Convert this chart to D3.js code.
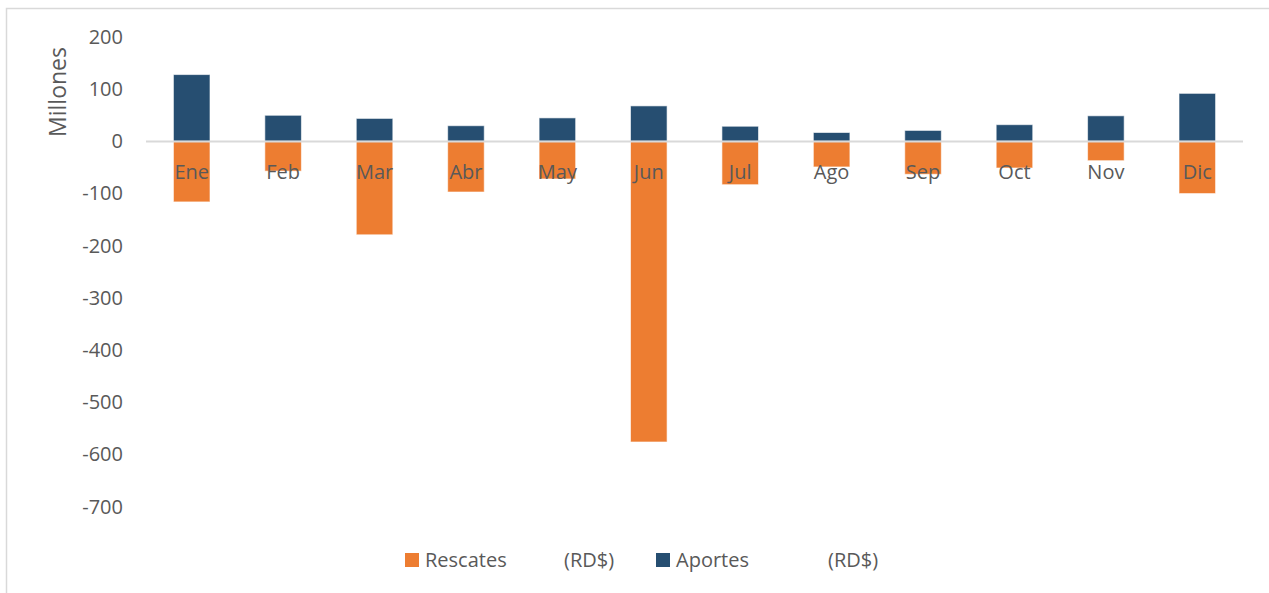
<!DOCTYPE html>
<html><head><meta charset="utf-8">
<script src="https://cdn.jsdelivr.net/npm/d3@7"></script>
<style>html,body{margin:0;padding:0;background:#fff;} svg{display:block;font-family:"Open Sans",sans-serif;}</style>
</head><body>
<script>
const categories = ["Ene","Feb","Mar","Abr","May","Jun","Jul","Ago","Sep","Oct","Nov","Dic"];
const aportes = [128, 50, 44, 30, 45, 68, 29, 17, 21, 32, 49, 92];
const rescates = [-116, -57, -179, -97, -72, -576, -83, -49, -63, -51, -37, -100];
const yTicks = [200, 100, 0, -100, -200, -300, -400, -500, -600, -700];
const seriesNames = ["Rescates", "Aportes"];
const unitLabel = "(RD$)";
const yTitle = "Millones";

const W = 1269, H = 593;
const svg = d3.select("body").append("svg").attr("width", W).attr("height", H);

// chart frame
svg.append("path").attr("d", `M6.5,${H} L6.5,8.5 L${W},8.5`).attr("fill","none").attr("stroke","#D9D9D9").attr("stroke-width",1.5);

const x = d3.scaleBand().domain(categories).range([146, 1243]).paddingInner(0.6).paddingOuter(0.3);
const y = d3.scaleLinear().domain([-700, 200]).range([506.7, 37]);

const textColor = "#595959";
const orange = "#ED7D31", blue = "#264E71";

// y axis labels
const yAxis = d3.axisLeft(y).tickValues(yTicks).tickSize(0).tickPadding(0).tickFormat(d => String(d));
const gy = svg.append("g").attr("transform","translate(123,0)").call(yAxis);
gy.select(".domain").remove();
gy.selectAll("text").attr("fill", textColor).style("font-size","20px").style("font-family","'Open Sans',sans-serif");

svg.append("text").attr("transform","translate(66,92) rotate(-90)").attr("text-anchor","middle")
  .attr("fill", textColor).style("font-size","23px").text(yTitle);

// bars
svg.append("g").selectAll("rect").data(categories).join("rect")
  .attr("x", d => x(d)).attr("width", x.bandwidth())
  .attr("y", (d,i) => y(aportes[i])).attr("height", (d,i) => y(0) - y(aportes[i]))
  .attr("fill", blue).attr("stroke","#fff").attr("stroke-opacity",0.6).attr("stroke-width",1);
svg.append("g").selectAll("rect").data(categories).join("rect")
  .attr("x", d => x(d)).attr("width", x.bandwidth())
  .attr("y", y(0)).attr("height", (d,i) => y(rescates[i]) - y(0))
  .attr("fill", orange).attr("stroke","#fff").attr("stroke-opacity",0.6).attr("stroke-width",1);

// zero line
svg.append("line").attr("x1",146).attr("x2",1243).attr("y1",y(0)).attr("y2",y(0))
  .attr("stroke","#D9D9D9").attr("stroke-width",2);

// category labels
const xAxis = d3.axisBottom(x).tickSize(0).tickPadding(0);
const gx = svg.append("g").attr("transform",`translate(0,${y(0)})`).call(xAxis);
gx.select(".domain").remove();
gx.selectAll("text").attr("dy",null).attr("y",38).attr("fill", textColor)
  .style("font-size","20px").style("font-family","'Open Sans',sans-serif");

// legend
const legend = [
  {name: seriesNames[0], color: orange, sx: 405, tx: 425, ux: 564},
  {name: seriesNames[1], color: blue, sx: 656, tx: 676, ux: 828}
];
const lg = svg.append("g");
legend.forEach(l => {
  lg.append("rect").attr("x", l.sx).attr("y", 553).attr("width", 14).attr("height", 14).attr("fill", l.color);
  const t = lg.append("text").attr("y", 567).attr("fill", textColor).style("font-size","20px");
  t.append("tspan").attr("x", l.tx).text(l.name);
  t.append("tspan").attr("x", l.ux).text(unitLabel);
});
</script>
</body></html>
